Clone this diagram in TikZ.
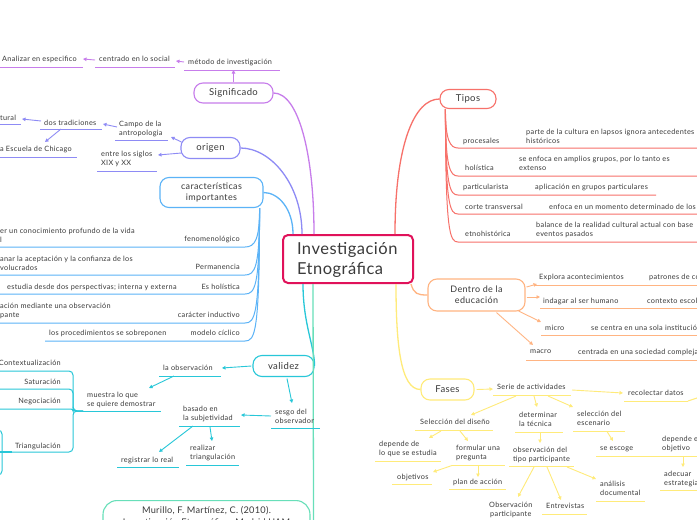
\documentclass[tikz,border=0pt]{standalone}
\usepackage{fontspec}
\setmainfont{Lato}
\newfontfamily\mapf[LetterSpace=4]{Lato}
\newfontfamily\bigf[LetterSpace=3]{Lato}
\usetikzlibrary{arrows.meta,calc}
\definecolor{tc}{HTML}{3A3A3A}
\definecolor{crim}{HTML}{E0125A}
\definecolor{csig}{HTML}{C77DEB}
\definecolor{cori}{HTML}{8E8BF5}
\definecolor{ccar}{HTML}{5BB3F7}
\definecolor{cval}{HTML}{28C7D8}
\definecolor{cmur}{HTML}{68DFB9}
\definecolor{ctip}{HTML}{F7716A}
\definecolor{cedu}{HTML}{FFB482}
\definecolor{cfas}{HTML}{FFEB7A}
\begin{document}
\begin{tikzpicture}[x=1pt,y=-1pt,
 txt/.style={inner sep=0pt, align=left, text=tc, font=\mapf\fontsize{7.3}{9}\selectfont},
 topic/.style={draw=#1, line width=1.1pt, rounded corners=9pt, fill=white, text=tc, font=\mapf\fontsize{9.5}{12}\selectfont, align=center, inner sep=2pt},
 ul/.style={draw=#1, line width=1pt},
 br/.style={draw=#1, line width=1.3pt},
 arr/.style={draw=#1, line width=0.9pt, -{Triangle[length=3.5pt,width=3.5pt]}},
]
\useasboundingbox (0,0) rectangle (697,520);
\fill[white] (0,0) rectangle (697,520);
\clip (0,0) rectangle (697,520);

% ---------- main nodes ----------
\node[draw=crim, line width=2pt, rounded corners=5pt, fill=white, minimum width=130pt, minimum height=48pt, text width=102pt, align=left, inner xsep=14pt, font=\bigf\fontsize{16.5}{20}\selectfont, text=tc] (c) at (348,259) {\rule{0pt}{14pt}Investigación\\Etnográfica};

\node[topic=csig, minimum width=79pt, minimum height=20pt] (sig) at (233.5,93) {Significado};
\node[topic=cori, minimum width=59pt, minimum height=21pt] (ori) at (210.5,148) {origen};
\node[topic=ccar, minimum width=103pt, minimum height=30pt, font=\mapf\fontsize{9}{11}\selectfont] (car) at (211.5,192.5) {características\\importantes};
\node[topic=cval, minimum width=61pt, minimum height=21pt] (val) at (283.5,366) {validez};
\node[topic=ctip, minimum width=56pt, minimum height=19pt] (tip) at (468,99) {Tipos};
\node[topic=cedu, minimum width=97pt, minimum height=32pt, font=\mapf\fontsize{9}{11}\selectfont] (edu) at (476.5,295) {Dentro de la\\educación};
\node[topic=cfas, minimum width=53pt, minimum height=21pt] (fas) at (447.5,389.5) {Fases};
\node[draw=cmur, line width=1.1pt, rounded corners=14pt, fill=white, text=tc, font=\bigf\fontsize{9.2}{12}\selectfont, align=center, minimum width=207pt, inner ysep=6pt, anchor=north] (mur) at (206.5,500) {Murillo, F. Martínez, C. (2010).\\Investigación Etnográfica. Madrid UAM};

% ---------- main branches ----------
\draw[br=csig] ([shift={(-34,0)}]c.north) .. controls +(0,-80) and +(25,0) .. (sig.east);
\draw[br=cori] ([shift={(-46,0)}]c.north) .. controls +(0,-50) and +(30,0) .. (ori.east);
\draw[br=ccar] ([shift={(-55,0)}]c.north) .. controls +(0,-25) and +(15,0) .. (car.east);
\draw[br=cval] ([shift={(-45,0)}]c.south) .. controls +(0,40) and +(0,-20) .. (val.east);
\draw[br=cmur] ([shift={(-35,0)}]c.south) -- ([shift={(3,10)}]mur.east);
\draw[br=ctip] ([shift={(47,0)}]c.north) .. controls +(0,-90) and +(-25,0) .. (tip.west);
\draw[br=cedu] ([shift={(-3,0)}]c.south east) .. controls +(3,10) and +(-10,0) .. (edu.west);
\draw[br=cfas] ([shift={(48,0)}]c.south) .. controls +(0,60) and +(-20,0) .. (fas.west);

% ---------- Significado ----------
\node[txt, anchor=west] (met) at (188,62) {método de investigación};
\node[txt, anchor=west] (cen) at (99,59) {centrado en lo social};
\node[txt, anchor=west] (ana) at (2,59) {Analizar en especifico};
\draw[ul=csig] (184,70) -- (280,70);
\draw[ul=csig] (95,67) -- (175,67);
\draw[ul=csig] (0,67) -- (83,67);
\draw[arr=csig] (sig.north) -- ([shift={(45.5,8)}]met.west);
\draw[arr=csig] ([shift={(-4,0)}]met.west) -- ([shift={(77,2)}]cen.west);
\draw[arr=csig] ([shift={(-4,1)}]cen.west) -- ([shift={(81,0)}]ana.west);

% ---------- origen ----------
\node[txt, anchor=west] (cam) at (119,129) {Campo de la\\antropologia};
\node[txt, anchor=west] (sgl) at (101,159) {entre los siglos\\XIX y XX};
\node[txt, anchor=west] (dos) at (44,123) {dos tradiciones};
\node[txt, anchor=west] (tur) at (0,118) {tural};
\node[txt, anchor=west] (chi) at (0,149) {a Escuela de Chicago};
\draw[ul=cori] (115,140) -- (168,140);
\draw[ul=cori] (97,171) -- (157,171);
\draw[ul=cori] (40,129) -- (102,129);
\draw[ul=cori] (0,124) -- (21,124);
\draw[ul=cori] (0,157) -- (77,157);
\draw[arr=cori] ([shift={(1,-6)}]ori.west) -- ([shift={(52,8)}]cam.west);
\draw[arr=cori] ([shift={(1,5)}]ori.west) -- ([shift={(57,-4)}]sgl.west);
\draw[arr=cori] ([shift={(-2,-2)}]cam.west) -- ([shift={(59,1)}]dos.west);
\draw[arr=cori] ([shift={(-3,-2)}]dos.west) -- ([shift={(22,1)}]tur.west);
\draw[arr=cori] ([shift={(17,6)}]dos.west) -- ([shift={(45,-7)}]chi.west);

% ---------- caracteristicas ----------
\node[txt, anchor=east] (fen) at (240,239) {fenomenológico};
\node[txt, anchor=west] (fend) at (0,235.5) {er un conocimiento profundo de la vida\\l};
\node[txt, anchor=east] (per) at (240,267) {Permanencia};
\node[txt, anchor=west] (perd) at (0,263) {anar la aceptación y la confianza de los\\volucrados};
\node[txt, anchor=east] (hol) at (240,287) {Es holística};
\node[txt, anchor=west] (hold) at (7,287) {estudia desde dos perspectivas; interna y externa};
\node[txt, anchor=east] (ind) at (240,315) {carácter inductivo};
\node[txt, anchor=west] (indd) at (0,310.5) {ación mediante una observación\\pante};
\node[txt, anchor=east] (cic) at (240,333) {modelo cíclico};
\node[txt, anchor=west] (cicd) at (49,333) {los procedimientos se sobreponen};
\draw[ul=ccar] ([shift={(-4,0)}]car.south east) .. controls +(0,31.5) and +(10,0) .. ([shift={(5,8)}]fen.east) -- (0,247);
\draw[ul=ccar] ([shift={(-4,0)}]car.south east) .. controls +(0,59.5) and +(10,0) .. ([shift={(5,8)}]per.east) -- (0,275);
\draw[ul=ccar] ([shift={(-4,0)}]car.south east) .. controls +(0,78.5) and +(10,0) .. ([shift={(5,7)}]hol.east) -- (0,294);
\draw[ul=ccar] ([shift={(-4,0)}]car.south east) .. controls +(0,107.5) and +(10,0) .. ([shift={(5,8)}]ind.east) -- (0,323);
\draw[ul=ccar] ([shift={(-4,0)}]car.south east) .. controls +(0,125.5) and +(10,0) .. ([shift={(5,8)}]cic.east) -- (45,341);

% ---------- validez ----------
\node[txt, anchor=west] (obs) at (163,368) {la observación};
\node[txt, anchor=west] (mue) at (87,399.5) {muestra lo que\\se quiere demostrar};
\node[txt, anchor=east] (ctx) at (61,363) {Contextualización};
\node[txt, anchor=east] (sat) at (61,382) {Saturación};
\node[txt, anchor=east] (neg) at (61,401) {Negociación};
\node[txt, anchor=east] (tri) at (61,446) {Triangulación};
\node[txt, anchor=west] (ses) at (275,416) {sesgo del\\observador};
\node[txt, anchor=west] (bas) at (183,414) {basado en\\la subjetividad};
\node[txt, anchor=west] (reg) at (121,460) {registrar lo real};
\node[txt, anchor=west] (rea) at (190,452.5) {realizar\\triangulación};
\draw[ul=cval] (159,376) -- (221,376);
\draw[ul=cval] (83,411) -- (161,411);
\draw[ul=cval] (271,428) -- (320,428);
\draw[ul=cval] (179,426) -- (240,426);
\draw[ul=cval] (117,467) -- (179,467);
\draw[ul=cval] (186,465) -- (239,465);
\draw[arr=cval] ([shift={(-1,0)}]val.west) -- ([shift={(59,0)}]obs.west);
\draw[arr=cval] ([shift={(11,8)}]obs.west) -- ([shift={(62,-11.5)}]mue.west);
\draw[arr=cval] ([shift={(3.5,1.5)}]val.south) -- ([shift={(17,-13)}]ses.west);
\draw[arr=cval] ([shift={(-4,0)}]ses.west) -- ([shift={(58,1)}]bas.west);
\draw[arr=cval] ([shift={(10,12)}]bas.west) -- ([shift={(38,-8)}]reg.west);
\draw[arr=cval] ([shift={(27,13)}]bas.west) -- ([shift={(22,-11.5)}]rea.west);
\draw[ul=cval, rounded corners=4pt] ([shift={(-4,11.5)}]mue.west) -| ([shift={(12,8)}]ctx.east) -- (-5,371);
\draw[ul=cval, rounded corners=4pt] ([shift={(-4,11.5)}]mue.west) -| ([shift={(12,7)}]sat.east) -- (-5,389);
\draw[ul=cval, rounded corners=2pt] ([shift={(-4,11.5)}]mue.west) -| ([shift={(12,8)}]neg.east) -- (-5,409);
\draw[ul=cval, rounded corners=4pt] ([shift={(-4,11.5)}]mue.west) -| ([shift={(12,6)}]tri.east) -- (-5,452);
\draw[ul=cval, rounded corners=4pt] (-10,430) -- (2,430) -- (2,475) -- (-10,475);
\draw[ul=cval, line width=1.6pt] ([shift={(-49,6)}]tri.east) -- ++(-12,0);

% ---------- Tipos ----------
\node[txt, anchor=west] (pro) at (463,141) {procesales};
\node[txt, anchor=west] (prod) at (526,136.5) {parte de la cultura en lapsos ignora antecedentes\\históricos};
\node[txt, anchor=west] (thol) at (465,168) {holística};
\node[txt, anchor=west] (thold) at (519,163.5) {se enfoca en amplios grupos, por lo tanto es\\extenso};
\node[txt, anchor=west] (par) at (463,187) {particularista};
\node[txt, anchor=west] (pard) at (535,187) {aplicación en grupos particulares};
\node[txt, anchor=west] (cor) at (465,207) {corte transversal};
\node[txt, anchor=west] (cord) at (549,207) {enfoca en un momento determinado de los};
\node[txt, anchor=west] (etn) at (465,234) {etnohistórica};
\node[txt, anchor=west] (etnd) at (536,229.5) {balance de la realidad cultural actual con base\\eventos pasados};
\draw[ul=ctip] ([shift={(6,0)}]tip.south west) .. controls +(0,31) and +(-8,0) .. ([shift={(-5,7)}]pro.west) -- (700,148);
\draw[ul=ctip] ([shift={(6,0)}]tip.south west) .. controls +(0,59) and +(-8,0) .. ([shift={(-7,8)}]thol.west) -- (700,176);
\draw[ul=ctip] ([shift={(6,0)}]tip.south west) .. controls +(0,78) and +(-8,0) .. ([shift={(-5,8)}]par.west) -- (656,195);
\draw[ul=ctip] ([shift={(6,0)}]tip.south west) .. controls +(0,97) and +(-8,0) .. ([shift={(-7,7)}]cor.west) -- (700,214);
\draw[ul=ctip] ([shift={(6,0)}]tip.south west) .. controls +(0,125) and +(-8,0) .. ([shift={(-7,8)}]etn.west) -- (700,242);

% ---------- Dentro de la educacion ----------
\node[txt, anchor=west] (exp) at (539,277) {Explora acontecimientos};
\node[txt, anchor=west] (expd) at (649,277) {patrones de co};
\node[txt, anchor=west] (ida) at (543,301) {indagar al ser humano};
\node[txt, anchor=west] (idad) at (647,301) {contexto escol};
\node[txt, anchor=west] (mic) at (545,328) {micro};
\node[txt, anchor=west] (micd) at (591,328) {se centra en una sola institución};
\node[txt, anchor=west] (mac) at (530,352) {macro};
\node[txt, anchor=west] (macd) at (578,352) {centrada en una sociedad compleja};
\draw[ul=cedu] (535,285) -- (700,285);
\draw[ul=cedu] (540,308) -- (700,308);
\draw[ul=cedu] (541,335) -- (700,335);
\draw[ul=cedu] (526,360) -- (700,360);
\draw[arr=cedu] ([shift={(1,-8)}]edu.east) -- ([shift={(-2,7)}]exp.west);
\draw[arr=cedu] ([shift={(1,2)}]edu.east) -- ([shift={(-3,-4)}]ida.west);
\draw[arr=cedu] ([shift={(-7,16)}]edu.east) -- ([shift={(-4,-6)}]mic.west);
\draw[arr=cedu] ([shift={(20,1)}]edu.south) -- ([shift={(3,-7)}]mac.west);

% ---------- Fases ----------
\node[txt, anchor=west] (ser) at (497,387) {Serie de actividades};
\node[txt, anchor=west] (rec) at (628,393) {recolectar datos};
\node[txt, anchor=west] (sel) at (420,422) {Selección del diseño};
\node[txt, anchor=west] (det) at (519,419.5) {determinar\\la técnica};
\node[txt, anchor=west] (esc) at (577,418.5) {selección del\\escenario};
\node[txt, anchor=west] (dep) at (379,448.5) {depende de\\lo que se estudia};
\node[txt, anchor=west] (frm) at (456,452.5) {formular una\\pregunta};
\node[txt, anchor=west] (obj) at (397,477) {objetivos};
\node[txt, anchor=west] (pla) at (453,482) {plan de acción};
\node[txt, anchor=west] (obp) at (513,454.5) {observación del\\tipo participante};
\node[txt, anchor=west, align=center] (obt) at (489,509.5) {Observación\\participante};
\node[txt, anchor=west] (ent) at (546,506) {Entrevistas};
\node[txt, anchor=west] (anl) at (600,488.5) {análisis\\documental};
\node[txt, anchor=west] (esco) at (600,449) {se escoge};
\node[txt, anchor=west] (depo) at (662,443.5) {depende e\\objetivo};
\node[txt, anchor=west] (ade) at (664,478.5) {adecuar\\estrategia};
\draw[ul=cfas] (493,395) -- (571,395);
\draw[ul=cfas] (624,401) -- (688,401);
\draw[ul=cfas] (415,430) -- (493,430);
\draw[ul=cfas] (515,432) -- (563,432);
\draw[ul=cfas] (573,431) -- (625,431);
\draw[ul=cfas] (375,461) -- (441,461);
\draw[ul=cfas] (452,465) -- (505,465);
\draw[ul=cfas] (392,484) -- (432,484);
\draw[ul=cfas] (449,489) -- (506,489);
\draw[ul=cfas] (509,466) -- (574,466);
\draw[ul=cfas] (542,514) -- (587,514);
\draw[ul=cfas] (596,501) -- (645,501);
\draw[ul=cfas] (596,456) -- (700,456);
\draw[ul=cfas] (660,490) -- (700,490);
\draw[ul=cfas] ([shift={(60,8)}]rec.west) -- (700,397);
\draw[arr=cfas] ([shift={(2,0)}]fas.east) -- ([shift={(-4,2)}]ser.west);
\draw[arr=cfas] ([shift={(75,3)}]ser.west) -- ([shift={(-5,0)}]rec.west);
\draw[arr=cfas] ([shift={(19,9)}]ser.west) -- ([shift={(51,-7)}]sel.west);
\draw[arr=cfas] ([shift={(37,9)}]ser.west) -- ([shift={(18,-12.5)}]det.west);
\draw[arr=cfas] ([shift={(51,9)}]ser.west) -- ([shift={(-4,-11.5)}]esc.west);
\draw[arr=cfas] ([shift={(21,9)}]sel.west) -- ([shift={(50,-10.5)}]dep.west);
\draw[arr=cfas] ([shift={(40,9)}]sel.west) -- ([shift={(12,-11.5)}]frm.west);
\draw[arr=cfas] ([shift={(-4,13)}]frm.west) -- ([shift={(36,-5)}]obj.west);
\draw[arr=cfas] ([shift={(22,13.5)}]frm.west) -- ([shift={(25,-5)}]pla.west);
\draw[arr=cfas] ([shift={(21,13)}]det.west) -- ([shift={(27,-11.5)}]obp.west);
\draw[arr=cfas] ([shift={(21,12.5)}]obp.west) -- ([shift={(29,-12.5)}]obt.west);
\draw[arr=cfas] ([shift={(34,12.5)}]obp.west) -- ([shift={(15,-6)}]ent.west);
\draw[arr=cfas] ([shift={(54,12.5)}]obp.west) -- ([shift={(-4,-9.5)}]anl.west);
\draw[arr=cfas] ([shift={(30,13)}]esc.west) -- ([shift={(13,-8)}]esco.west);
\draw[arr=cfas] ([shift={(21,13)}]depo.west) -- ([shift={(19,-11.5)}]ade.west);
\end{tikzpicture}
\end{document}
